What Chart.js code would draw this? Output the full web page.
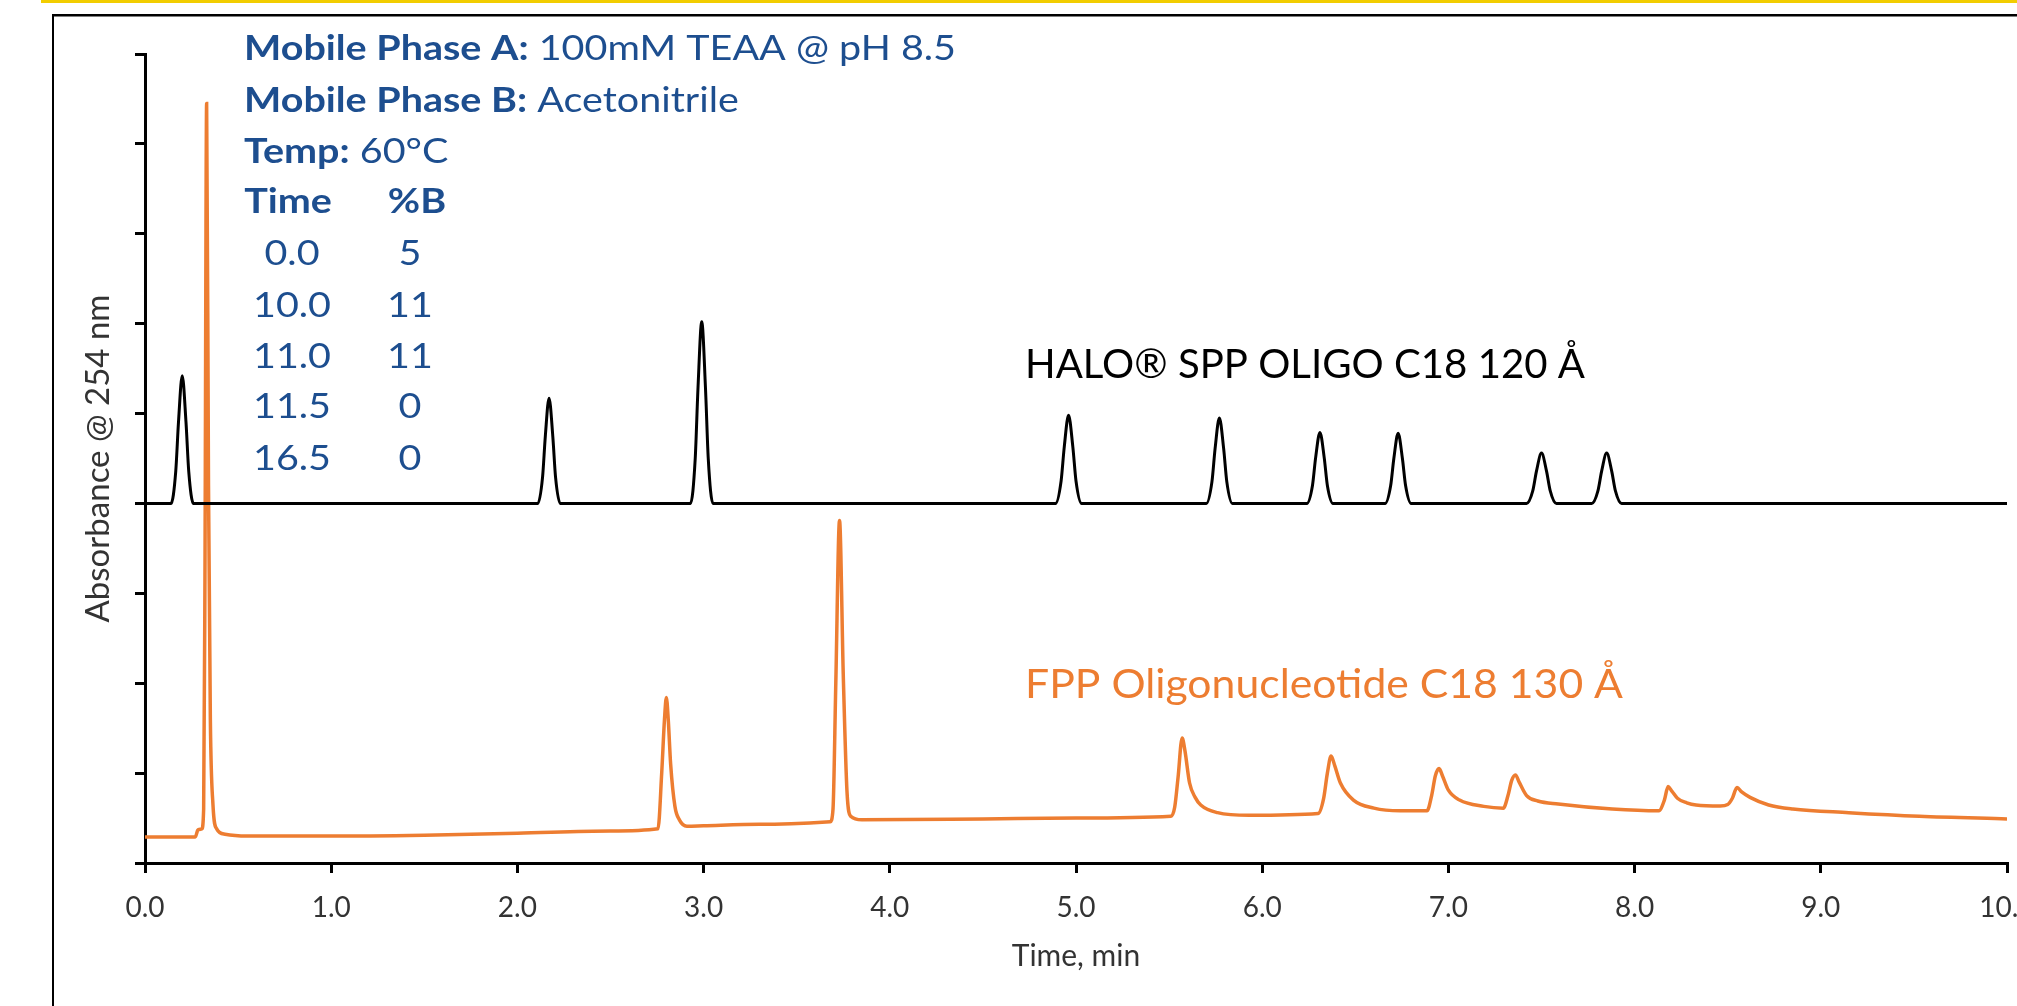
<!DOCTYPE html>
<html>
<head>
<meta charset="utf-8">
<script src="https://cdn.jsdelivr.net/npm/chart.js@4.4.1/dist/chart.umd.min.js"></script>
<style>
  html, body { margin: 0; padding: 0; background: #fff; }
  #wrap { width: 2017px; height: 1006px; }
</style>
</head>
<body>
<div id="wrap"><canvas id="c" width="2017" height="1006"></canvas></div>
<script>
// ---------------- DATA ----------------
const seriesNames = ['HALO® SPP OLIGO C18 120 Å', 'FPP Oligonucleotide C18 130 Å'];

const blackTimes = [0.00,
  0.14, 0.165, 0.18, 0.20, 0.22, 0.235, 0.26,
  2.11, 2.135, 2.15, 2.17, 2.19, 2.205, 2.23,
  2.93, 2.955, 2.97, 2.99, 3.01, 3.025, 3.05,
  4.89, 4.92, 4.937, 4.96, 4.983, 5.00, 5.03,
  5.70, 5.73, 5.747, 5.77, 5.793, 5.81, 5.84,
  6.24, 6.27, 6.287, 6.31, 6.333, 6.35, 6.38,
  6.66, 6.69, 6.707, 6.73, 6.753, 6.77, 6.80,
  7.42, 7.453, 7.473, 7.50, 7.527, 7.547, 7.58,
  7.77, 7.803, 7.823, 7.85, 7.877, 7.897, 7.93,
  10.00];
const blackValues = [4.00,
  4.00, 4.355, 4.91, 5.42, 4.91, 4.355, 4.00,
  4.00, 4.29, 4.75, 5.17, 4.75, 4.29, 4.00,
  4.00, 4.50, 5.29, 6.02, 5.29, 4.50, 4.00,
  4.00, 4.25, 4.63, 4.98, 4.63, 4.25, 4.00,
  4.00, 4.24, 4.61, 4.95, 4.61, 4.24, 4.00,
  4.00, 4.20, 4.51, 4.79, 4.51, 4.20, 4.00,
  4.00, 4.20, 4.50, 4.78, 4.50, 4.20, 4.00,
  4.00, 4.14, 4.36, 4.56, 4.36, 4.14, 4.00,
  4.00, 4.14, 4.36, 4.56, 4.36, 4.14, 4.00,
  4.00];

const orangeTimes = [0.00, 0.27, 0.285, 0.305, 0.315, 0.322, 0.331, 0.341, 0.351, 0.365, 0.385, 0.43, 0.55,
  1.00, 1.50, 2.00, 2.50, 2.755, 2.775, 2.79, 2.80, 2.81, 2.823, 2.846, 2.87, 2.91,
  3.00, 3.30, 3.68, 3.695, 3.71, 3.73, 3.75, 3.77, 3.79, 3.85,
  4.50, 5.00, 5.51, 5.53, 5.548, 5.57, 5.585, 5.61, 5.64, 5.67, 5.76, 5.93,
  6.30, 6.33, 6.35, 6.37, 6.39, 6.42, 6.49, 6.60, 6.74, 6.885,
  6.91, 6.93, 6.95, 6.97, 7.00, 7.06, 7.19, 7.295,
  7.32, 7.34, 7.36, 7.38, 7.42, 7.48, 7.59, 7.88, 8.13,
  8.16, 8.18, 8.20, 8.23, 8.28, 8.33, 8.46, 8.50,
  8.525, 8.55, 8.575, 8.62, 8.72, 8.85, 9.15, 9.53, 10.00];
const orangeValues = [0.29, 0.29, 0.37, 0.38, 0.60, 3.20, 8.45, 4.20, 1.60, 0.65, 0.38, 0.32, 0.30,
  0.30, 0.31, 0.33, 0.355, 0.38, 1.00, 1.60, 1.84, 1.60, 1.10, 0.63, 0.48, 0.41,
  0.415, 0.43, 0.46, 0.60, 2.00, 3.81, 2.10, 0.80, 0.52, 0.48,
  0.49, 0.50, 0.52, 0.62, 0.95, 1.39, 1.25, 0.89, 0.73, 0.645, 0.56, 0.53,
  0.55, 0.72, 1.00, 1.19, 1.08, 0.89, 0.70, 0.61, 0.58, 0.58,
  0.75, 0.97, 1.05, 0.96, 0.81, 0.70, 0.63, 0.61,
  0.75, 0.92, 0.98, 0.90, 0.75, 0.69, 0.656, 0.60, 0.58,
  0.70, 0.85, 0.80, 0.72, 0.67, 0.645, 0.634, 0.65,
  0.72, 0.84, 0.79, 0.73, 0.645, 0.60, 0.56, 0.52, 0.49];

const conditionLines = [
  [{t: 'Mobile Phase A:', b: true}, {t: ' 100mM TEAA @ pH 8.5', b: false}],
  [{t: 'Mobile Phase B:', b: true}, {t: ' Acetonitrile', b: false}],
  [{t: 'Temp:', b: true}, {t: ' 60°C', b: false}]
];
const gradientHeader = ['Time', '%B'];
const gradientTimes = ['0.0', '10.0', '11.0', '11.5', '16.5'];
const gradientB = ['5', '11', '11', '0', '0'];

const xTickValues = [0, 1, 2, 3, 4, 5, 6, 7, 8, 9, 10];
const xAxisTitle = 'Time, min';
const yAxisTitle = 'Absorbance @ 254 nm';

// ---------------- STYLE ----------------
const FONT = 'Lato, "Open Sans", "DejaVu Sans", sans-serif';
const BLUE = '#1D4E8F';
const ORANGE = '#ED7D31';
Chart.defaults.font.family = FONT;

function toXY(ts, vs) { return ts.map((t, i) => ({x: t, y: vs[i]})); }

function drawRuns(ctx, runs, x, y, size, sx) {
  ctx.save();
  ctx.translate(x, y);
  ctx.scale(sx, 1);
  let cx = 0;
  for (const r of runs) {
    ctx.font = (r.b ? 'bold ' : '') + size + 'px ' + FONT;
    ctx.fillText(r.t, cx, 0);
    cx += ctx.measureText(r.t).width;
  }
  ctx.restore();
}
function runsWidth(ctx, runs, size) {
  let w = 0;
  for (const r of runs) {
    ctx.font = (r.b ? 'bold ' : '') + size + 'px ' + FONT;
    w += ctx.measureText(r.t).width;
  }
  return w;
}
function drawCentered(ctx, text, cx, y, font, sx) {
  ctx.save();
  ctx.translate(cx, y);
  ctx.scale(sx, 1);
  ctx.font = font;
  ctx.textAlign = 'center';
  ctx.fillText(text, 0, 0);
  ctx.restore();
}

const decor = {
  id: 'decor',
  beforeDraw(chart) {
    const ctx = chart.ctx;
    ctx.save();
    ctx.fillStyle = '#fff';
    ctx.fillRect(0, 0, chart.width, chart.height);
    ctx.fillStyle = '#F2CD00';
    ctx.fillRect(41, 0, chart.width - 41, 3);
    ctx.fillStyle = '#000';
    ctx.fillRect(52, 14, chart.width - 52, 2.5);
    ctx.fillRect(52, 14, 2, chart.height - 14);
    ctx.restore();
  },
  afterDraw(chart) {
    const ctx = chart.ctx;
    ctx.save();
    ctx.textBaseline = 'alphabetic';
    // conditions block
    const size = 35;
    const sx = 712 / runsWidth(ctx, conditionLines[0], size);
    ctx.fillStyle = BLUE;
    const baselines = [60, 112, 163];
    conditionLines.forEach((runs, i) => drawRuns(ctx, runs, 244, baselines[i], size, sx));
    drawCentered(ctx, gradientHeader[0], 288, 213, 'bold ' + size + 'px ' + FONT, sx);
    drawCentered(ctx, gradientHeader[1], 417, 213, 'bold ' + size + 'px ' + FONT, sx);
    const rowBase = [265, 317, 368, 418, 470];
    gradientTimes.forEach((t, i) => {
      drawCentered(ctx, t, 292, rowBase[i], size + 'px ' + FONT, sx);
      drawCentered(ctx, gradientB[i], 410, rowBase[i], size + 'px ' + FONT, sx);
    });
    // series labels
    const ls = 40;
    ctx.fillStyle = '#000';
    const r1 = [{t: seriesNames[0], b: false}];
    drawRuns(ctx, r1, 1025, 378, ls, 560 / runsWidth(ctx, r1, ls));
    ctx.fillStyle = ORANGE;
    const r2 = [{t: seriesNames[1], b: false}];
    drawRuns(ctx, r2, 1025, 698, ls, 598 / runsWidth(ctx, r2, ls));
    ctx.restore();
  }
};

new Chart(document.getElementById('c'), {
  type: 'line',
  data: {
    datasets: [
      {
        label: seriesNames[0],
        data: toXY(blackTimes, blackValues),
        borderColor: '#000',
        borderWidth: 3,
        pointRadius: 0,
        cubicInterpolationMode: 'monotone',
        fill: false
      },
      {
        label: seriesNames[1],
        data: toXY(orangeTimes, orangeValues),
        borderColor: ORANGE,
        borderWidth: 3.5,
        pointRadius: 0,
        cubicInterpolationMode: 'monotone',
        fill: false
      }
    ]
  },
  options: {
    responsive: false,
    animation: false,
    devicePixelRatio: 1,
    layout: { padding: { left: 0, right: 10, top: 54, bottom: 0 } },
    plugins: { legend: { display: false }, tooltip: { enabled: false } },
    scales: {
      x: {
        type: 'linear',
        min: 0, max: 10,
        afterBuildTicks: (s) => { s.ticks = xTickValues.map(v => ({value: v})); },
        ticks: {
          autoSkip: false, maxRotation: 0, minRotation: 0,
          padding: 18,
          color: '#333',
          font: { size: 28 },
          callback: (v) => Number(v).toFixed(1)
        },
        grid: { drawOnChartArea: false, drawTicks: true, tickLength: 10, color: '#000', lineWidth: 3 },
        border: { display: true, color: '#000', width: 3 },
        title: { display: true, text: xAxisTitle, color: '#333', font: { size: 30 }, padding: { top: 0, bottom: 32 } },
        afterFit: (s) => { s.height = 143; s.paddingLeft = 0; s.paddingRight = 0; }
      },
      y: {
        type: 'linear',
        min: 0, max: 9,
        ticks: { stepSize: 1, callback: () => '', padding: 0 },
        grid: { drawOnChartArea: false, drawTicks: true, tickLength: 10, color: '#000', lineWidth: 3 },
        border: { display: true, color: '#000', width: 3 },
        title: { display: true, text: yAxisTitle, color: '#333', font: { size: 33 }, padding: { top: 79, bottom: 0 } },
        afterFit: (s) => { s.width = 145; s.paddingTop = 0; s.paddingBottom = 0; }
      }
    }
  },
  plugins: [decor]
});
</script>
</body>
</html>
